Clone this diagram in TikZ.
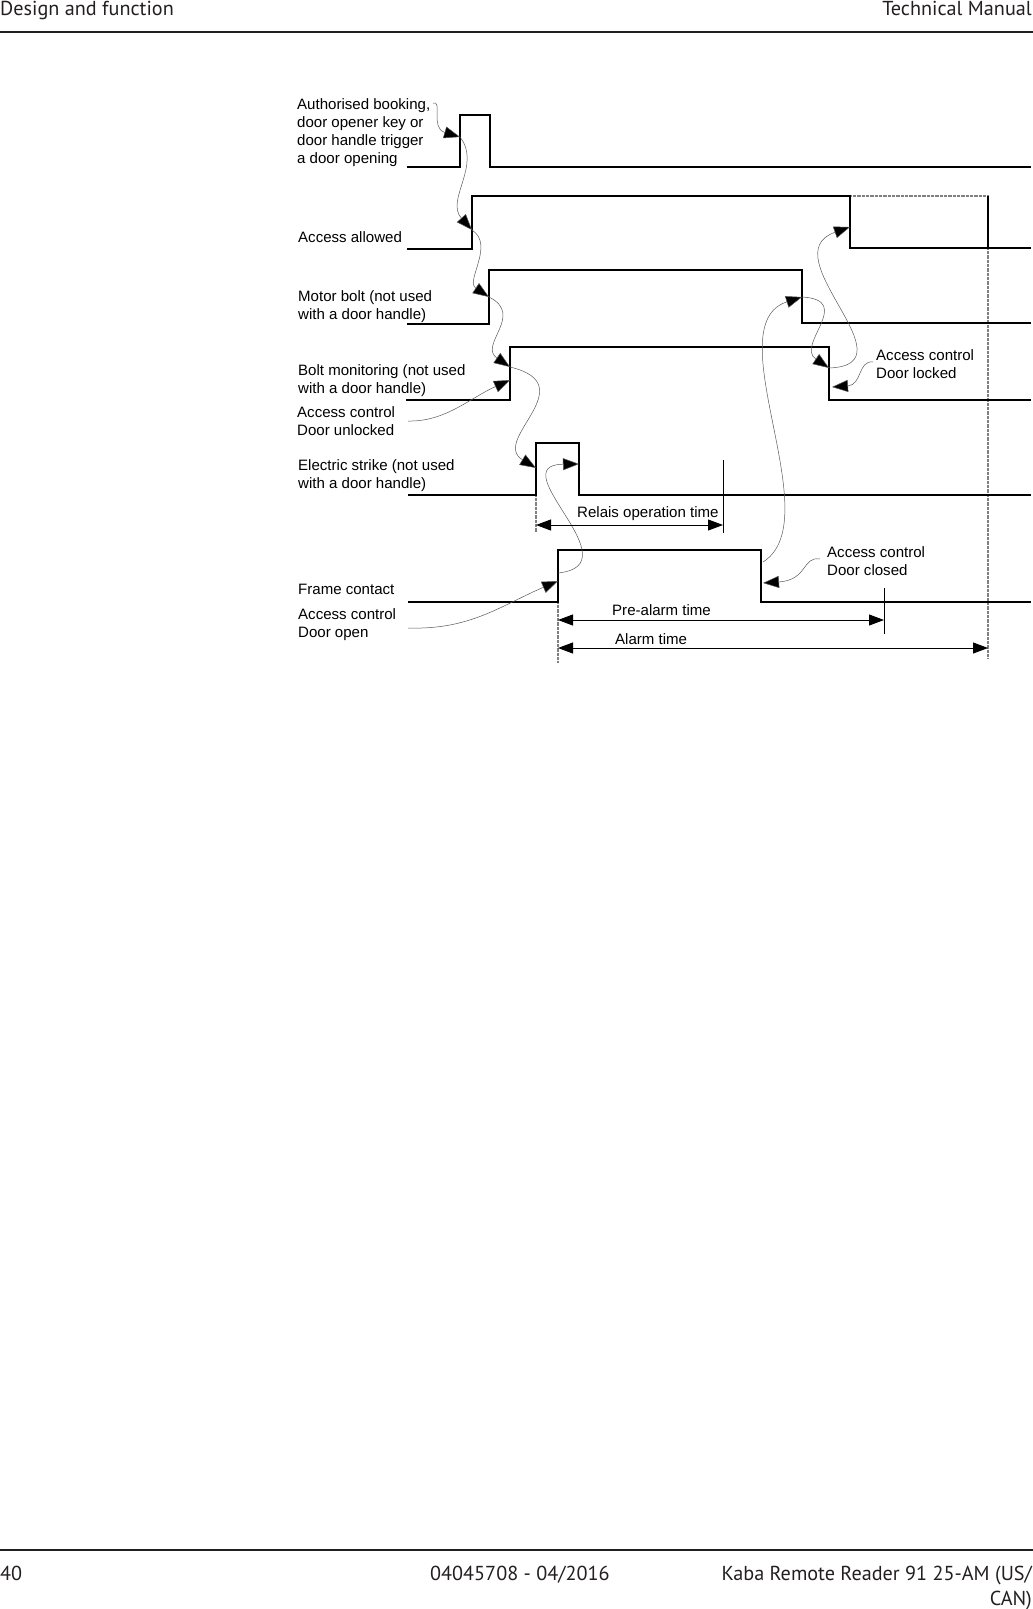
\documentclass[tikz,border=0pt]{standalone}
\usepackage{fontspec}
\usepackage{xcolor}
\usetikzlibrary{arrows.meta}
\setmainfont{Liberation Sans}
\newfontfamily\pagefont{PT Sans}
\definecolor{ink}{HTML}{231F20}
\definecolor{guide}{HTML}{808080}
\tikzset{
  lbl/.style={anchor=base west, align=left, inner sep=0pt, font=\fontsize{15.05}{18}\selectfont},
  page/.style={anchor=base west, inner sep=0pt, text=ink, font=\pagefont\fontsize{20.2}{24}\selectfont},
  sig/.style={line width=2.8pt, line join=miter},
  sigthin/.style={line width=2.2pt, line join=miter},
  rule/.style={line width=2.2pt, draw=ink},
  curve/.style={line width=0.5pt, draw=black!65, -{Triangle[length=16pt,width=12pt,fill=black]}},
  dim/.style={line width=0.9pt, {Triangle[length=15pt,width=11pt]}-{Triangle[length=15pt,width=11pt]}},
  tick/.style={line width=0.9pt},
  gline/.style={line width=1.3pt, draw=guide, dash pattern=on 1pt off 0.3pt}
}
\begin{document}
\begin{tikzpicture}[x=1pt,y=-1pt]
\useasboundingbox (0,0) rectangle (1033,1609);
\node[page] (head) at (0,15) {Design and function};
\node[page, anchor=base east] (manual) at (1032,15) {Technical Manual};
\node[page] (page) at (0,1580) {40};
\node[page] (doc) at (430,1580) {04045708 - 04/2016};
\node[page, anchor=base east] (prod) at (1032,1580) {Kaba Remote Reader 91 25-AM (US/};
\node[page, anchor=base east] (prodb) at (1032,1605) {CAN)};
\draw[rule] (0,32) -- (1033,32);
\draw[rule] (0,1550) -- (1033,1550);

\draw[gline] (850,196) -- (988,196);
\draw[gline] (988,248) -- (988,658);
\draw[gline] (536,495) -- (536,532);
\draw[gline] (558,602) -- (558,662);

\draw[sig] (407,167) -- (460,167) -- (460,115) -- (490,115) -- (490,167) -- (1031,167);
\draw[sig] (407,249) -- (472,249) -- (472,196) -- (850,196) -- (850,248) -- (1031,248);
\draw[sig, line width=2.2pt] (988,196) -- (988,248);
\draw[sig] (407,324) -- (489,324) -- (489,270) -- (802,270) -- (802,323) -- (1031,323);
\draw[sig] (406,400) -- (510,400) -- (510,347) -- (829,347) -- (829,400) -- (1031,400);
\draw[sig] (408,495) -- (536,495) -- (536,443) -- (579,443) -- (579,495) -- (1031,495);
\draw[sigthin] (408,602) -- (558,602) -- (558,550) -- (761,550) -- (761,602) -- (1031,602);

\node[lbl] (auth) at (297,109) {Authorised booking,};
\node[lbl] (authb) at (297,127) {door opener key or};
\node[lbl] (authc) at (297,145) {door handle trigger};
\node[lbl] (authd) at (297,163.5) {a door opening};
\node[lbl] (allowed) at (298,242) {Access allowed};
\node[lbl] (motor) at (298,301) {Motor bolt (not used};
\node[lbl] (motorb) at (298,319) {with a door handle)};
\node[lbl] (bolt) at (298,375) {Bolt monitoring (not used};
\node[lbl] (boltb) at (298,393) {with a door handle)};
\node[lbl] (unlock) at (297,417) {Access control};
\node[lbl] (unlockb) at (297,435) {Door unlocked};
\node[lbl] (strike) at (298,470) {Electric strike (not used};
\node[lbl] (strikeb) at (298,488) {with a door handle)};
\node[lbl] (frame) at (298,594) {Frame contact};
\node[lbl] (open) at (298,619) {Access control};
\node[lbl] (openb) at (298,637) {Door open};
\node[lbl] (relais) at (577,517) {Relais operation time};
\node[lbl] (closed) at (827,557) {Access control};
\node[lbl] (closedb) at (827,575) {Door closed};
\node[lbl] (prealarm) at (612,615) {Pre-alarm time};
\node[lbl] (alarm) at (615,644) {Alarm time};
\node[lbl] (locked) at (876,360) {Access control};
\node[lbl] (lockedb) at (876,378) {Door locked};

\coordinate (trigup) at (460,137);
\coordinate (allowup) at (472,230);
\coordinate (motorup) at (489,297);
\coordinate (boltup) at (510,367);
\coordinate (boltin) at (510,380);
\coordinate (strikeup) at (536,468);
\coordinate (strikedn) at (579,464);
\coordinate (frameup) at (558,573);
\coordinate (framein) at (558,581);
\coordinate (framedn) at (763,562);
\coordinate (closedin) at (763,583);
\coordinate (motordn) at (802,297);
\coordinate (boltdn) at (829,368);
\coordinate (lockedin) at (832,387);
\coordinate (allowdn) at (850,227);
\coordinate (authout) at (433,103);
\coordinate (unlockout) at (408,421);
\coordinate (openout) at (408,628);
\coordinate (closedout) at (820,559);
\coordinate (lockedout) at (873,362);

\draw[curve] (authout) .. controls (443,100) and (430,128) .. (trigup);
\draw[curve] (trigup) .. controls (482,165) and (445,200) .. (allowup);
\draw[curve] (allowup) .. controls (495,245) and (465,281) .. (motorup);
\draw[curve] (motorup) .. controls (525,315) and (478,345) .. (boltup);
\draw[curve] (boltup) .. controls (585,385) and (490,440) .. (strikeup);
\draw[curve] (unlockout) .. controls (445,422) and (470,398) .. (boltin);
\draw[curve] (frameup) .. controls (635,565) and (500,465) .. (strikedn);
\draw[curve] (openout) .. controls (470,630) and (500,606) .. (framein);
\draw[curve] (closedout) .. controls (802,556) and (808,580) .. (closedin);
\draw[curve] (framedn) .. controls (830,520) and (715,325) .. (motordn);
\draw[curve] (motordn) .. controls (855,300) and (795,345) .. (boltdn);
\draw[curve] (boltdn) .. controls (915,365) and (770,255) .. (allowdn);
\draw[curve] (lockedout) .. controls (858,360) and (862,385) .. (lockedin);

\coordinate (relaisa) at (536,525);
\coordinate (relaisb) at (723,525);
\coordinate (prea) at (558,620);
\coordinate (preb) at (884,620);
\coordinate (alarma) at (558,648);
\coordinate (alarmb) at (988,648);
\draw[dim] (relaisa) -- (relaisb);
\draw[dim] (prea) -- (preb);
\draw[dim] (alarma) -- (alarmb);
\draw[tick] (723,460) -- (723,533);
\draw[tick] (884,588) -- (884,634);
\end{tikzpicture}
\end{document}
